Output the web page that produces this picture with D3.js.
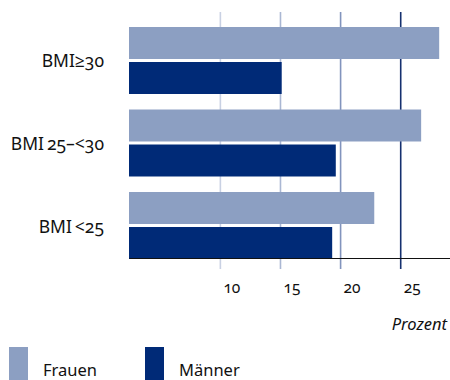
<!DOCTYPE html>
<html><head><meta charset="utf-8">
<script src="https://cdn.jsdelivr.net/npm/d3@7"></script>
<style>
body{margin:0;background:#fff;}
text{font-family:"Noto Sans","Open Sans",sans-serif;fill:#111;}
.num{font-variant-numeric:oldstyle-nums;font-feature-settings:"onum" 1;}
</style></head><body>
<svg id="c" width="450" height="380"></svg>
<script>
const categories = ["BMI\u226530", "BMI\u200925\u2013<30", "BMI\u2009<25"];
const series = ["Frauen", "Männer"];
const frauen = [28.2, 26.7, 22.8];
const maenner = [15.1, 19.6, 19.3];
const tickValues = [10, 15, 20, 25];
const axisTitle = "Prozent";

const colors = {Frauen: "#8c9fc2", "Männer": "#002a77"};
const gridColors = ["#c9d1e3", "#aab7d3", "#8294bd", "#15306f"];

const svg = d3.select("#c");
const x = d3.scaleLinear().domain([2.4, 29.1]).range([129, 450]);
const y0 = d3.scaleBand().domain(categories).range([27, 259]).paddingInner(0.188).paddingOuter(0);
const y1 = d3.scaleBand().domain(series).range([0, y0.bandwidth()]).paddingInner(0.086);

// gridlines
svg.append("g").selectAll("line").data(tickValues).join("line")
  .attr("x1", d => x(d)).attr("x2", d => x(d))
  .attr("y1", 12).attr("y2", 269)
  .attr("stroke", (d, i) => gridColors[i]).attr("stroke-width", 1.6);

// bars
const data = categories.map((c, i) => ({cat: c, values: [
  {s: "Frauen", v: frauen[i]}, {s: "Männer", v: maenner[i]}]}));
const g = svg.append("g").selectAll("g").data(data).join("g")
  .attr("transform", d => `translate(0,${y0(d.cat)})`);
g.selectAll("rect").data(d => d.values).join("rect")
  .attr("x", x(2.4)).attr("y", d => y1(d.s))
  .attr("width", d => x(d.v) - x(2.4)).attr("height", y1.bandwidth())
  .attr("fill", d => colors[d.s]);

// category labels
svg.append("g").selectAll("text").data(categories).join("text")
  .attr("class", "num")
  .attr("x", 104).attr("y", d => y0(d) + y0.bandwidth() / 2)
  .attr("text-anchor", "end").attr("dominant-baseline", "central")
  .attr("font-size", 17.5).text(d => d);

// axis
const axis = d3.axisBottom(x).tickValues(tickValues).tickSize(0).tickPadding(24).tickFormat(d3.format("d"));
const ag = svg.append("g").attr("transform", "translate(0,258)").call(axis);
ag.select(".domain").attr("stroke", "#111").attr("stroke-width", 1.2);
ag.selectAll("text").attr("class", "num").attr("font-size", 15.5).attr("fill", "#111")
  .style("font-family", '"Noto Sans","Open Sans",sans-serif').attr("dx", 11);

svg.append("text").attr("x", 447).attr("y", 330).attr("text-anchor", "end")
  .attr("font-size", 16.5).attr("font-style", "italic").text(axisTitle);

// legend
const lx = [9, 145];
const lg = svg.append("g").selectAll("g").data(series).join("g")
  .attr("transform", (d, i) => `translate(${lx[i]},347)`);
lg.append("rect").attr("width", 19).attr("height", 33).attr("fill", d => colors[d]);
lg.append("text").attr("x", 34).attr("y", 29).attr("font-size", 16.5).text(d => d);
</script></body></html>
